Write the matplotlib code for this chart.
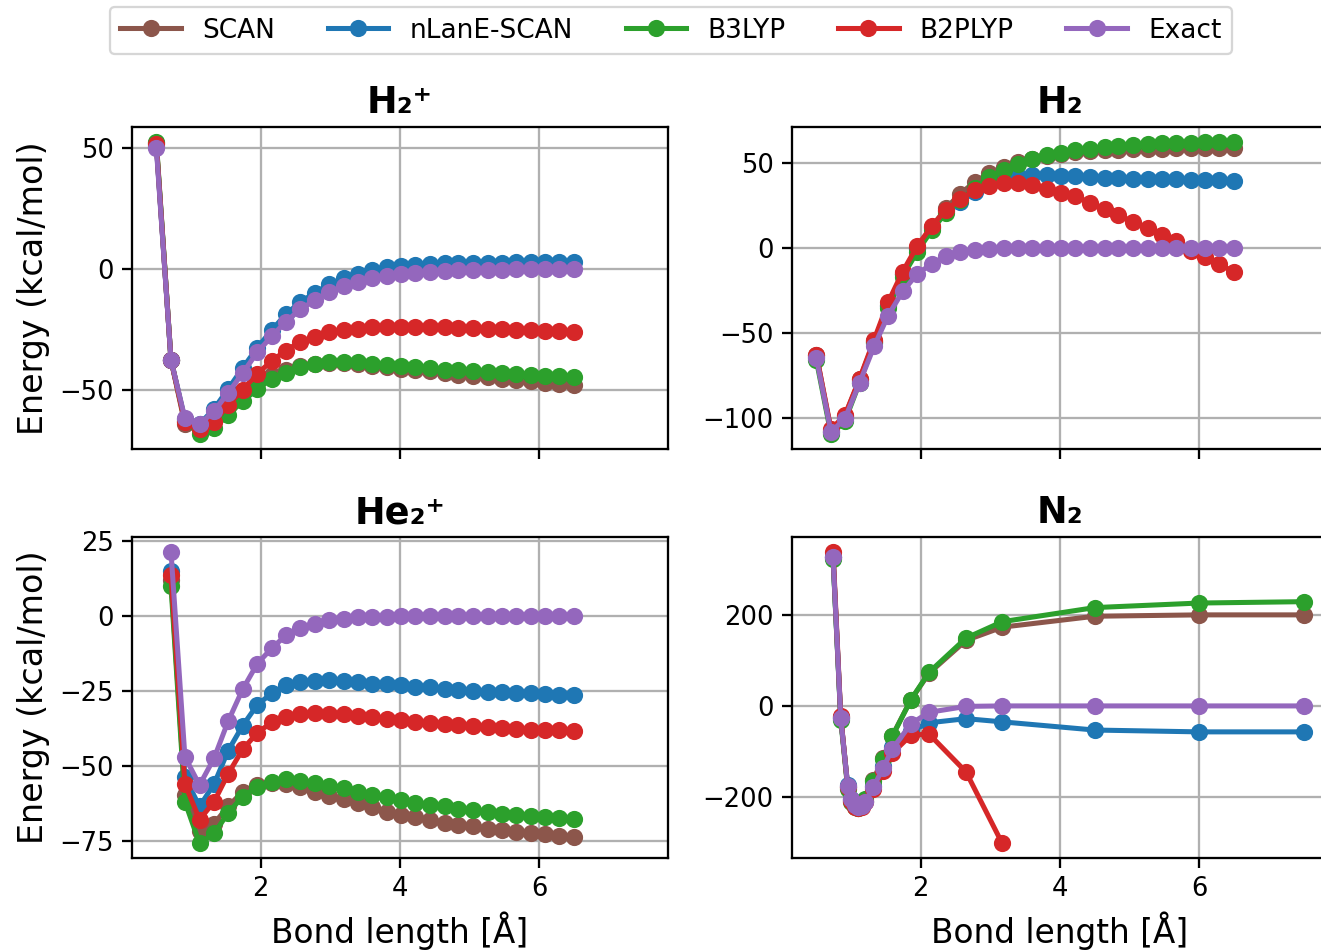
import matplotlib
matplotlib.use("Agg")
import matplotlib.pyplot as plt

# bond lengths (Angstrom) for the H2+ / H2 scans
R = [0.50, 0.71, 0.91, 1.12, 1.33, 1.53, 1.74, 1.95, 2.16, 2.36,
     2.57, 2.78, 2.98, 3.19, 3.40, 3.60, 3.81, 4.02, 4.22, 4.43,
     4.64, 4.84, 5.05, 5.26, 5.47, 5.67, 5.88, 6.09, 6.29, 6.50]
# He2+ starts one grid point later
R_HE2 = R[1:]
# N2 uses its own grid
R_N2 = [0.74, 0.85, 0.95, 1.00, 1.05, 1.10, 1.15, 1.20, 1.32, 1.46,
        1.59, 1.86, 2.12, 2.65, 3.17, 4.50, 6.00, 7.50]

methods = ["SCAN", "nLanE-SCAN", "B3LYP", "B2PLYP", "Exact"]
colors = ["tab:brown", "tab:blue", "tab:green", "tab:red", "tab:purple"]

# H2+ (kcal/mol)
h2p_scan = [52.0, -37.4, -64.1, -66.0, -62.7, -56.8, -51.1, -47.0, -43.6, -41.5,
            -39.9, -39.2, -38.8, -38.8, -39.2, -39.8, -40.3, -41.0, -41.5, -42.2,
            -42.9, -43.6, -44.3, -44.7, -45.2, -45.8, -46.3, -46.9, -47.3, -47.7]
h2p_nlane = [51.0, -37.4, -62.0, -64.0, -57.6, -49.5, -40.8, -32.4, -25.1, -18.6,
             -13.5, -9.7, -6.3, -3.7, -1.9, -0.4, 0.8, 1.5, 1.9, 2.2,
             2.4, 2.5, 2.6, 2.7, 2.7, 2.8, 2.8, 2.9, 2.9, 3.0]
h2p_b3lyp = [52.7, -37.4, -62.7, -68.2, -65.4, -60.2, -54.5, -49.5, -45.2, -42.9,
             -40.4, -39.2, -38.5, -38.4, -38.5, -39.1, -39.5, -39.9, -40.4, -40.8,
             -41.5, -41.8, -42.2, -42.6, -42.9, -43.2, -43.6, -43.9, -44.3, -44.4]
h2p_b2plyp = [51.6, -37.4, -63.1, -66.1, -63.1, -56.1, -49.7, -43.2, -37.8, -33.6,
              -29.9, -27.9, -26.0, -24.9, -24.5, -24.0, -23.9, -23.8, -23.8, -23.9,
              -24.0, -24.2, -24.4, -24.6, -24.7, -24.9, -25.1, -25.4, -25.7, -26.0]
h2p_exact = [50.0, -37.4, -61.6, -64.0, -58.6, -51.1, -42.9, -34.3, -27.6, -21.7,
             -16.5, -12.8, -9.4, -7.0, -5.3, -3.6, -2.7, -1.9, -1.5, -1.0,
             -0.7, -0.5, -0.4, -0.3, -0.2, -0.1, -0.1, 0.0, 0.0, 0.0]

# H2
h2_scan = [-62.7, -107.6, -98.8, -77.3, -54.9, -33.4, -15.2, -0.2, 12.5, 23.2,
           32.0, 38.9, 43.8, 47.7, 50.6, 52.5, 54.1, 55.5, 56.4, 57.0,
           57.4, 57.8, 58.0, 58.2, 58.4, 58.6, 58.6, 58.8, 58.8, 58.8]
h2_nlane = [-64.0, -108.0, -100.0, -78.0, -56.0, -34.0, -15.5, -0.8, 11.5, 21.5,
            27.1, 33.0, 37.9, 40.8, 42.2, 42.8, 42.8, 42.4, 42.2, 41.8,
            41.4, 41.2, 40.8, 40.6, 40.4, 40.4, 40.2, 40.0, 39.8, 39.6]
h2_b3lyp = [-66.0, -109.6, -101.8, -79.3, -55.5, -35.4, -16.8, -2.1, 10.5, 20.7,
            28.1, 35.0, 41.8, 46.1, 49.6, 52.0, 54.5, 55.9, 57.4, 58.4,
            59.4, 60.2, 60.7, 61.1, 61.5, 61.7, 61.9, 62.1, 62.3, 62.5]
h2_b2plyp = [-62.7, -106.6, -98.4, -77.0, -53.9, -32.0, -13.9, 1.2, 12.9, 22.3,
             28.7, 34.0, 36.5, 37.9, 37.9, 36.9, 34.9, 32.4, 30.5, 26.6,
             22.7, 19.3, 15.4, 11.5, 7.6, 4.3, -1.8, -5.5, -9.4, -14.3]
h2_exact = [-64.6, -108.2, -100.4, -79.3, -57.8, -39.8, -25.6, -15.2, -9.4, -4.7,
            -2.3, -1.2, -0.6, -0.2, 0.0, 0.0, 0.0, 0.0, 0.0, 0.0,
            0.0, 0.0, 0.0, 0.0, 0.0, 0.0, 0.0, 0.0, 0.0, 0.0]

# He2+
he2p_scan = [11.9, -59.6, -71.6, -69.1, -63.4, -58.5, -56.3, -55.7, -55.9, -57.0,
             -58.5, -59.9, -61.0, -62.3, -63.6, -65.1, -66.2, -66.9, -68.0, -68.9,
             -69.5, -70.0, -70.8, -71.3, -71.8, -72.2, -72.6, -73.1, -73.5]
he2p_nlane = [14.8, -53.7, -63.4, -55.9, -44.9, -36.5, -29.6, -25.7, -23.0, -22.0,
              -21.5, -21.4, -21.6, -22.0, -22.5, -22.7, -23.0, -23.5, -23.8, -24.3,
              -24.6, -24.9, -25.2, -25.4, -25.6, -25.8, -25.9, -26.2, -26.3]
he2p_b3lyp = [10.0, -61.8, -75.7, -72.4, -65.6, -60.1, -56.8, -55.2, -54.4, -54.8,
              -55.5, -56.6, -57.4, -58.5, -59.6, -60.4, -61.2, -62.1, -62.9, -63.4,
              -64.1, -64.7, -65.3, -65.8, -66.2, -66.5, -66.9, -67.3, -67.6]
he2p_b2plyp = [13.7, -55.9, -67.8, -61.8, -52.6, -44.4, -38.9, -35.4, -33.5, -32.6,
               -32.3, -32.5, -32.7, -33.2, -33.7, -34.3, -34.8, -35.3, -35.7, -36.0,
               -36.4, -36.7, -37.0, -37.3, -37.5, -37.8, -37.9, -38.1, -38.4]
he2p_exact = [21.4, -46.9, -56.3, -47.3, -35.1, -24.4, -15.9, -10.7, -6.5, -4.1,
              -2.6, -1.4, -0.9, -0.5, -0.3, -0.2, -0.1, -0.1, 0.0, 0.0,
              0.0, 0.0, 0.0, 0.0, 0.0, 0.0, 0.0, 0.0, 0.0]

# N2 (B2PLYP stops after 3.17 A)
n2_scan = [328, -25, -177, -207, -220, -224, -220, -208, -162, -114,
           -66, 14, 72, 144, 173, 197, 200, 200]
n2_nlane = [328, -26, -174, -204, -217, -221, -217, -208, -176, -131,
            -91, -55, -37, -28, -35, -53, -57, -57]
n2_b3lyp = [323, -30, -182, -210, -222, -224, -218, -205, -165, -117,
            -67, 14, 74, 149, 185, 216, 226, 229]
n2_b2plyp = [339, -22, -178, -208, -221, -225, -221, -212, -182, -142,
             -104, -64, -62, -145, -302]
n2_exact = [328, -26, -176, -205, -218, -222, -219, -210, -178, -136,
            -95, -39, -14, -1, 0, 0, 0, 0]

panels = [
    ("H₂⁺", R, [h2p_scan, h2p_nlane, h2p_b3lyp, h2p_b2plyp, h2p_exact], [-50, 0, 50]),
    ("H₂", R, [h2_scan, h2_nlane, h2_b3lyp, h2_b2plyp, h2_exact], [-100, -50, 0, 50]),
    ("He₂⁺", R_HE2, [he2p_scan, he2p_nlane, he2p_b3lyp, he2p_b2plyp, he2p_exact],
     [-75, -50, -25, 0, 25]),
    ("N₂", R_N2, [n2_scan, n2_nlane, n2_b3lyp, n2_b2plyp, n2_exact], [-200, 0, 200]),
]

W, H, DPI = 1321, 952, 165
fig = plt.figure(figsize=(W / DPI, H / DPI), dpi=DPI)

# axes boxes in pixels: left, top, width, height (right column runs off the edge)
boxes = [(132, 127, 536, 322), (792, 127, 536, 322),
         (132, 537, 536, 321), (792, 537, 536, 321)]
axes = []
for (l, t, w, h) in boxes:
    ax = fig.add_axes([l / W, 1 - (t + h) / H, w / W, h / H],
                      sharex=axes[0] if axes else None)
    axes.append(ax)

for i, (ax, (name, x, series, yt)) in enumerate(zip(axes, panels)):
    for label, color, y in zip(methods, colors, series):
        ax.plot(x[:len(y)], y, marker="o", color=color, label=label,
                linewidth=2.2, markersize=6.5)
    ax.set_title(name, fontsize=16, fontweight="bold")
    ax.set_yticks(yt)
    ax.set_xticks([2, 4, 6])
    ax.tick_params(labelsize=11.3, width=1.0, length=4.5)
    for sp in ax.spines.values():
        sp.set_linewidth(1.0)
    ax.grid(True, linewidth=1.0)
    if i % 2 == 0:
        ax.set_ylabel("Energy (kcal/mol)", fontsize=14.5)
    if i >= 2:
        ax.set_xlabel("Bond length [Å]", fontsize=14.3)
    else:
        ax.tick_params(labelbottom=False)

handles, labels = axes[0].get_legend_handles_labels()
fig.legend(handles, labels, loc="upper center", ncol=5, fontsize=11.5,
           bbox_to_anchor=(671 / W, 1 + 6 / H), handlelength=2.3)

fig.savefig("out.png", dpi=DPI)
